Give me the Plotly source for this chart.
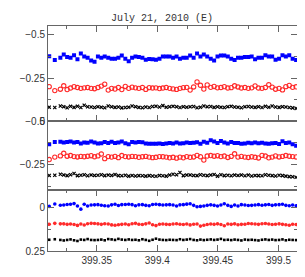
import plotly.graph_objects as go

title_text = "July 21, 2010 (E)"

times = [399.3108, 399.3154, 399.3200,
         399.3228, 399.3256, 399.3284, 399.3313, 399.3341, 399.3369, 399.3397, 399.3425, 399.3454, 399.3482,
         399.3510, 399.3538, 399.3566, 399.3595, 399.3623, 399.3651, 399.3679, 399.3707, 399.3736, 399.3764,
         399.3792, 399.3820, 399.3848, 399.3877, 399.3905, 399.3933, 399.3961, 399.3989, 399.4018, 399.4046,
         399.4074, 399.4102, 399.4130, 399.4159, 399.4187, 399.4215, 399.4243, 399.4271, 399.4300, 399.4328,
         399.4356, 399.4384, 399.4412, 399.4441, 399.4469, 399.4497, 399.4525, 399.4553, 399.4582, 399.4610,
         399.4638, 399.4666, 399.4694, 399.4723, 399.4751, 399.4779, 399.4807, 399.4835, 399.4864, 399.4892,
         399.4920, 399.4948, 399.4976, 399.5005, 399.5033, 399.5061, 399.5089, 399.5117, 399.5146]

# Panel 1
blue1 = [-0.376, -0.354, -0.367, -0.386, -0.371, -0.367, -0.382, -0.358, -0.392, -0.375, -0.367, -0.352,
         -0.344, -0.375, -0.367, -0.375, -0.367, -0.361, -0.361, -0.367, -0.380, -0.361, -0.347, -0.367,
         -0.375, -0.371, -0.367, -0.356, -0.360, -0.358, -0.356, -0.361, -0.375, -0.375, -0.375, -0.367,
         -0.375, -0.361, -0.367, -0.367, -0.380, -0.367, -0.392, -0.375, -0.386, -0.375, -0.361, -0.352,
         -0.375, -0.380, -0.380, -0.375, -0.361, -0.354, -0.367, -0.367, -0.371, -0.371, -0.375, -0.358,
         -0.367, -0.367, -0.382, -0.375, -0.375, -0.356, -0.361, -0.382, -0.375, -0.382, -0.361, -0.354]
red1 = [-0.200, -0.177, -0.185, -0.205, -0.183, -0.192, -0.200, -0.195, -0.190, -0.193, -0.195, -0.190,
        -0.188, -0.195, -0.203, -0.214, -0.180, -0.190, -0.186, -0.195, -0.183, -0.201, -0.190, -0.197,
        -0.193, -0.190, -0.195, -0.184, -0.194, -0.192, -0.193, -0.189, -0.192, -0.195, -0.190, -0.187,
        -0.184, -0.190, -0.194, -0.196, -0.180, -0.198, -0.227, -0.208, -0.186, -0.210, -0.196, -0.201,
        -0.193, -0.195, -0.200, -0.192, -0.194, -0.205, -0.198, -0.192, -0.195, -0.190, -0.193, -0.204,
        -0.192, -0.190, -0.195, -0.211, -0.197, -0.185, -0.190, -0.181, -0.200, -0.207, -0.196, -0.199]
black1 = [-0.081, -0.079, -0.088, -0.084, -0.078, -0.086, -0.080, -0.087, -0.079, -0.092, -0.083, -0.082,
          -0.079, -0.084, -0.081, -0.078, -0.088, -0.083, -0.080, -0.082, -0.077, -0.079, -0.081, -0.088,
          -0.084, -0.080, -0.078, -0.082, -0.079, -0.085, -0.087, -0.082, -0.090, -0.081, -0.083, -0.086,
          -0.083, -0.079, -0.084, -0.081, -0.083, -0.085, -0.078, -0.081, -0.088, -0.083, -0.085, -0.080,
          -0.083, -0.081, -0.079, -0.084, -0.086, -0.082, -0.081, -0.078, -0.083, -0.085, -0.082, -0.080,
          -0.084, -0.079, -0.086, -0.081, -0.088, -0.082, -0.080, -0.084, -0.082, -0.079, -0.077, -0.074]

# Panel 2
blue2 = [-0.367, -0.381, -0.382, -0.378, -0.381, -0.383, -0.378, -0.381, -0.372, -0.378, -0.376, -0.383,
         -0.378, -0.372, -0.373, -0.380, -0.375, -0.382, -0.374, -0.378, -0.383, -0.373, -0.368, -0.380,
         -0.378, -0.380, -0.379, -0.372, -0.370, -0.370, -0.370, -0.371, -0.369, -0.371, -0.375, -0.372,
         -0.377, -0.371, -0.373, -0.378, -0.375, -0.376, -0.379, -0.370, -0.382, -0.376, -0.391, -0.383,
         -0.375, -0.386, -0.378, -0.371, -0.381, -0.375, -0.374, -0.370, -0.372, -0.376, -0.373, -0.377,
         -0.373, -0.376, -0.371, -0.370, -0.373, -0.374, -0.369, -0.384, -0.374, -0.378, -0.368, -0.358]
red2 = [-0.279, -0.293, -0.300, -0.315, -0.298, -0.302, -0.296, -0.294, -0.297, -0.295, -0.298, -0.301,
        -0.295, -0.300, -0.311, -0.284, -0.296, -0.293, -0.297, -0.290, -0.302, -0.296, -0.294, -0.297,
        -0.296, -0.292, -0.295, -0.297, -0.293, -0.290, -0.292, -0.296, -0.295, -0.293, -0.289, -0.292,
        -0.287, -0.293, -0.289, -0.296, -0.292, -0.294, -0.303, -0.295, -0.276, -0.299, -0.302, -0.298,
        -0.301, -0.296, -0.299, -0.291, -0.297, -0.312, -0.293, -0.297, -0.293, -0.291, -0.295, -0.292,
        -0.288, -0.303, -0.299, -0.289, -0.293, -0.300, -0.294, -0.297, -0.302, -0.298, -0.296, -0.294]
black2 = [-0.187, -0.188, -0.194, -0.190, -0.186, -0.191, -0.198, -0.186, -0.188, -0.191, -0.185, -0.190,
          -0.187, -0.188, -0.191, -0.186, -0.189, -0.187, -0.192, -0.186, -0.185, -0.188, -0.183, -0.187,
          -0.184, -0.186, -0.185, -0.183, -0.186, -0.184, -0.182, -0.187, -0.185, -0.183, -0.189, -0.194,
          -0.191, -0.204, -0.186, -0.189, -0.190, -0.187, -0.186, -0.191, -0.188, -0.186, -0.189, -0.192,
          -0.183, -0.191, -0.186, -0.188, -0.185, -0.189, -0.187, -0.190, -0.185, -0.189, -0.184, -0.187,
          -0.186, -0.185, -0.191, -0.188, -0.186, -0.184, -0.188, -0.186, -0.183, -0.180, -0.179, -0.176]

# Panel 3
blue3 = [-0.008, -0.022, -0.015, -0.016, -0.019, -0.020, -0.024, -0.010, 0.008, -0.020, -0.010, -0.016,
         -0.017, -0.018, -0.015, -0.012, -0.010, -0.017, -0.020, -0.013, -0.018, -0.019, -0.020, -0.018,
         -0.012, -0.017, -0.018, -0.014, -0.012, -0.019, -0.020, -0.018, -0.016, -0.017, -0.018, -0.016,
         -0.010, -0.017, -0.018, -0.021, -0.023, -0.014, -0.006, -0.008, -0.010, -0.014, -0.017, -0.014,
         -0.010, -0.016, -0.023, -0.014, -0.008, -0.016, -0.010, -0.018, -0.016, -0.013, -0.014, -0.016,
         -0.018, -0.015, -0.017, -0.019, -0.014, -0.017, -0.018, -0.020, -0.014, -0.012, -0.016, -0.012]
red3 = [0.095, 0.090, 0.093, 0.093, 0.096, 0.094, 0.097, 0.102, 0.094, 0.100, 0.092, 0.090,
        0.091, 0.093, 0.096, 0.092, 0.094, 0.099, 0.101, 0.098, 0.096, 0.094, 0.098, 0.092,
        0.090, 0.095, 0.097, 0.093, 0.088, 0.098, 0.103, 0.095, 0.094, 0.096, 0.097, 0.094,
        0.092, 0.095, 0.097, 0.094, 0.099, 0.095, 0.094, 0.106, 0.101, 0.097, 0.094, 0.096,
        0.093, 0.097, 0.104, 0.094, 0.096, 0.093, 0.098, 0.096, 0.095, 0.091, 0.092, 0.094,
        0.096, 0.092, 0.091, 0.094, 0.097, 0.095, 0.093, 0.096, 0.098, 0.101, 0.095, 0.097]
black3 = [0.185, 0.182, 0.186, 0.189, 0.186, 0.183, 0.188, 0.192, 0.184, 0.186, 0.181, 0.186,
          0.187, 0.186, 0.184, 0.188, 0.181, 0.183, 0.186, 0.180, 0.184, 0.186, 0.183, 0.186,
          0.185, 0.188, 0.182, 0.186, 0.191, 0.185, 0.179, 0.184, 0.186, 0.187, 0.185, 0.186,
          0.187, 0.182, 0.186, 0.184, 0.181, 0.186, 0.188, 0.184, 0.187, 0.185, 0.183, 0.186,
          0.184, 0.180, 0.186, 0.185, 0.187, 0.184, 0.186, 0.189, 0.184, 0.186, 0.185, 0.187,
          0.189, 0.185, 0.183, 0.186, 0.184, 0.187, 0.186, 0.183, 0.188, 0.185, 0.186, 0.187]

x_ticks = [399.35, 399.4, 399.45, 399.5]
x_ticklabels = ["399.35", "399.4", "399.45", "399.5"]
x_minor = [399.325, 399.375, 399.425, 399.475]

y1_ticks = [-0.5, -0.25, 0.0]
y1_labels = ["\u22120.5", "\u22120.25", "0"]
y2_ticks = [-0.5, -0.25]
y2_labels = ["\u22120.5", "\u22120.25"]
y3_ticks = [0.0, 0.25]
y3_labels = ["0", "0.25"]

BLUE = "#0000ff"
RED = "#ff2a2a"
BLACK = "#000000"
FRAME = "#666666"
TXT = "#333333"

fig = go.Figure()

def add(y, ax, symbol, color, size, lw=0, xa="x"):
    fig.add_trace(go.Scatter(
        x=times, y=y, mode="markers", xaxis=xa, yaxis=ax, showlegend=False,
        marker=dict(symbol=symbol, color=color, size=size,
                    line=dict(width=lw, color=color))))

add(blue1, "y", "square", BLUE, 4, xa="x")
add(red1, "y", "circle-open", RED, 4.3, 1.1, xa="x")
add(black1, "y", "x-thin", BLACK, 3.2, 1.2, xa="x")

add(blue2, "y2", "square", BLUE, 4, xa="x2")
add(red2, "y2", "circle-open", RED, 4.3, 1.1, xa="x2")
add(black2, "y2", "x-thin", BLACK, 3.2, 1.2, xa="x2")

add(blue3, "y3", "circle", BLUE, 3.6, xa="x3")
add(red3, "y3", "circle", RED, 3.6, xa="x3")
add(black3, "y3", "square", BLACK, 2.6, xa="x3")

xr = [399.3098, 399.5153]
tickfont = dict(family="Liberation Sans, Arial, sans-serif", size=10, color=TXT)

def xaxis(domain_anchor, labels, ticks):
    return dict(range=xr, anchor=domain_anchor, domain=[0, 1], showline=True, linecolor=FRAME,
                linewidth=1, mirror="allticks" if ticks else True, ticks="inside" if ticks else "",
                ticklen=6, tickcolor=FRAME, tickvals=x_ticks, ticktext=x_ticklabels,
                showticklabels=labels, tickfont=tickfont, showgrid=False, zeroline=False,
                minor=dict(tickvals=x_minor, ticklen=3, ticks="inside" if ticks else "",
                           tickcolor=FRAME, showgrid=False))

def yaxis(dom, rng, tv, tt, minor, xanchor):
    return dict(domain=dom, range=rng, anchor=xanchor, showline=True, linecolor=FRAME, linewidth=1,
                mirror="allticks", ticks="inside", ticklen=6, tickcolor=FRAME,
                tickvals=tv, ticktext=tt, tickfont=tickfont, showgrid=False, zeroline=False,
                minor=dict(tickvals=minor, ticklen=3, ticks="inside", tickcolor=FRAME, showgrid=False))

H = 229.0
d1 = [1 - 97 / H, 1.0]
d2 = [62 / H, 1 - 97 / H]
d3 = [0.0, 62 / H]

fig.update_layout(
    width=305, height=277,
    margin=dict(l=37.5, r=16, t=14, b=34, pad=0),
    paper_bgcolor="white", plot_bgcolor="white",
    title=dict(text=title_text, x=0.505, xref="container", xanchor="center",
               y=1 - 9.5 / 277, yref="container", yanchor="middle",
               font=dict(family="Liberation Mono, Courier New, monospace", size=10, color=TXT)),
    xaxis=xaxis("y", False, True),
    xaxis2=xaxis("y2", False, False),
    xaxis3=xaxis("y3", True, True),
    yaxis=yaxis(d1, [0.0008, -0.5512], y1_ticks, y1_labels, [-0.375, -0.125], "x"),
    yaxis2=yaxis(d2, [-0.1023, -0.5], y2_ticks, y2_labels, [-0.375, -0.125], "x2"),
    yaxis3=yaxis(d3, [0.25, -0.1023], y3_ticks, y3_labels, [-0.125, 0.125], "x3"),
)

fig.write_html("out.html")
